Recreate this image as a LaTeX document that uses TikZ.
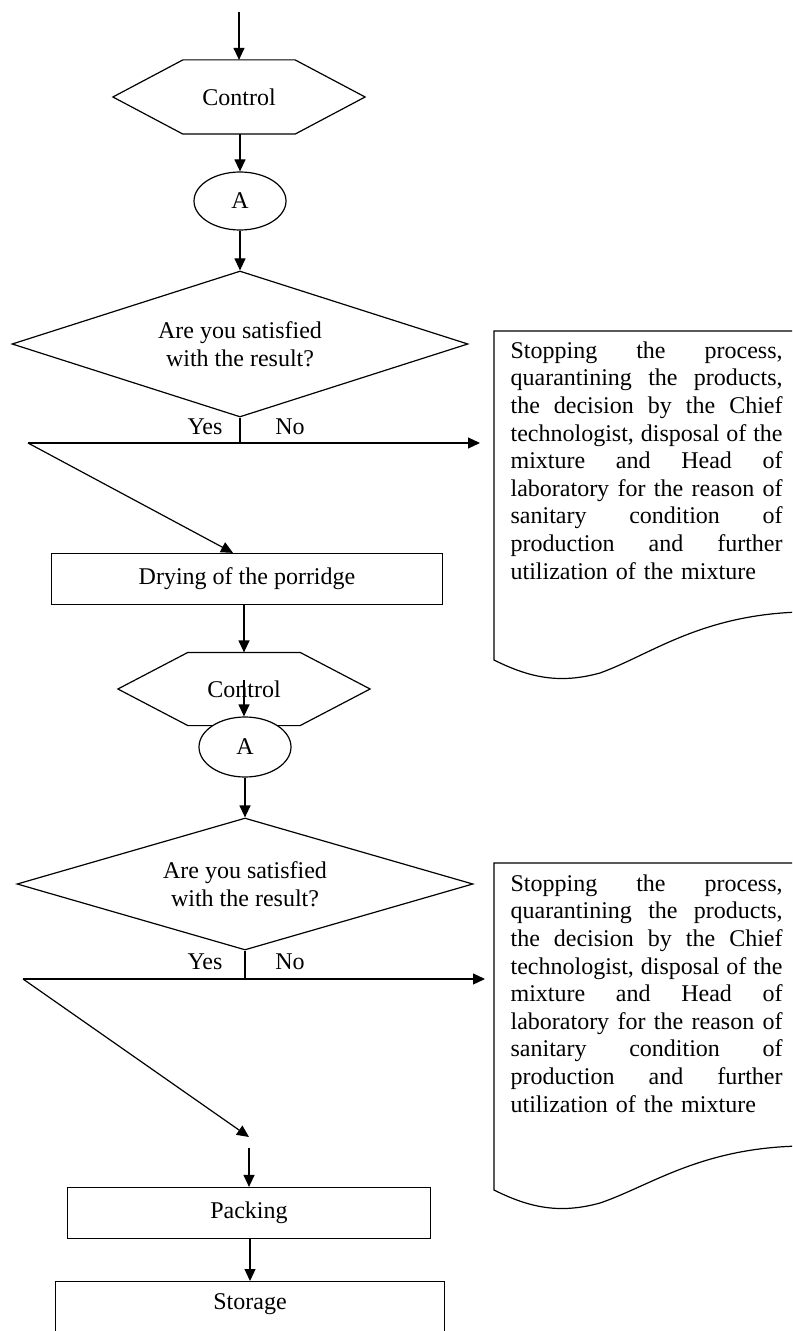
\documentclass[tikz,border=0pt]{standalone}
\usepackage{fontspec}
\setmainfont{Liberation Serif}
\usetikzlibrary{shapes.geometric,arrows.meta}
\newlength\docwd
\setlength\docwd{136pt}
\newcommand{\docline}[1]{\makebox[\docwd][s]{\spaceskip=0pt\xspaceskip=0pt\relax #1}}
\begin{document}
\begin{tikzpicture}[x=0.5pt,y=-0.5pt,line width=0.6pt,>={Triangle[length=6pt,width=5.5pt]},
	font=\fontsize{12}{13.8}\selectfont,
	hexa/.style={rectangle,inner sep=0pt,minimum width=125.5pt,minimum height=#1},
	oval/.style={ellipse,draw,fill=white,inner sep=0pt,minimum width=46pt,minimum height=29pt},
	ask/.style={diamond,draw,aspect=3.1,inner sep=0pt,align=center,minimum width=228pt,minimum height=#1},
	proc/.style={rectangle,draw,fill=white,inner sep=0pt,minimum width=#1,minimum height=25.5pt},
	note/.style={anchor=north west,inner sep=0pt,text width=\docwd,align=left}]
	\useasboundingbox (0,0) rectangle (792,1331);
	\clip (0,0) rectangle (792,1331);
	% first control
	\coordinate (in) at (239,12);
	\node[hexa=36.5pt] (ctrl1) at (239,97) {Control};
	\draw (ctrl1.west) -- ([xshift=35pt]ctrl1.north west) -- ([xshift=-35pt]ctrl1.north east) -- (ctrl1.east) -- ([xshift=-35pt]ctrl1.south east) -- ([xshift=35pt]ctrl1.south west) -- cycle;
	\node[oval] (A1) at (240,201) {A};
	\node[ask=73pt] (dec1) at (240,344) {Are you satisfied\\with the result?};
	\draw[->] (in) -- (ctrl1.north -| in);
	\draw[->] (ctrl1.south -| A1) -- (A1);
	\draw[->] (A1) -- (dec1);
	\coordinate (j1) at (240,443);
	\coordinate (y1) at (28,443);
	\coordinate (n1) at (480,443);
	\draw (dec1.south) -- (j1);
	\draw[->] (y1) -- (n1);
	\node (yes1) at (205,427) {Yes};
	\node (no1) at (290,427) {No};
	\draw (800,331) -- (494,331) -- (494,660) .. controls (530,678) and (560,684) .. (600,673) .. controls (650,655) and (700,615) .. (800,612);
	\node[note] (doc1) at (510,341) {\docline{Stopping the process,}\\ \docline{quarantining the products,}\\ \docline{the decision by the Chief}\\ \docline{technologist, disposal of the}\\ \docline{mixture and Head of}\\ \docline{laboratory for the reason of}\\ \docline{sanitary condition of}\\ \docline{production and further}\\ utilization of the mixture};
	% drying
	\node[proc=195.5pt] (dry) at (247,579) {Drying of the porridge};
	\draw[->] (y1) -- ([xshift=-7pt]dry.north);
	% second control
	\node[hexa=36pt] (ctrl2) at (244,689) {Control};
	\draw (ctrl2.west) -- ([xshift=35pt]ctrl2.north west) -- ([xshift=-35pt]ctrl2.north east) -- (ctrl2.east) -- ([xshift=-35pt]ctrl2.south east) -- ([xshift=35pt]ctrl2.south west) -- cycle;
	\draw[->] (dry.south -| ctrl2) -- (ctrl2.north);
	\node[oval,minimum height=30pt] (A2) at (245,747) {A};
	\draw[->] ([yshift=4.5pt]ctrl2.center) -- (ctrl2.center |- A2.north);
	\node[ask=66pt] (dec2) at (245,884) {Are you satisfied\\with the result?};
	\draw[->] (A2) -- (dec2);
	\coordinate (j2) at (245,979);
	\coordinate (y2) at (23,979);
	\coordinate (n2) at (485,979);
	\draw (dec2.south) -- (j2);
	\draw[->] (y2) -- (n2);
	\node (yes2) at (205,962) {Yes};
	\node (no2) at (290,962) {No};
	\draw (800,863) -- (494,863) -- (494,1190) .. controls (530,1208) and (560,1214) .. (600,1203) .. controls (650,1186) and (700,1148) .. (800,1146);
	\node[note] (doc2) at (510,874) {\docline{Stopping the process,}\\ \docline{quarantining the products,}\\ \docline{the decision by the Chief}\\ \docline{technologist, disposal of the}\\ \docline{mixture and Head of}\\ \docline{laboratory for the reason of}\\ \docline{sanitary condition of}\\ \docline{production and further}\\ utilization of the mixture};
	\coordinate (e2) at (249,1137);
	\coordinate (s2) at (249,1148);
	\draw[->] (y2) -- (e2);
	% packing and storage
	\node[proc=181.5pt] (pack) at (249,1213) {Packing};
	\node[draw,anchor=north,inner xsep=0pt,inner ysep=6pt,text depth=40pt,minimum width=194.5pt] (stor) at (250,1281) {Storage};
	\draw[->] (s2) -- (pack);
	\draw[->] (pack.south -| stor) -- (stor.north);
\end{tikzpicture}
\end{document}
